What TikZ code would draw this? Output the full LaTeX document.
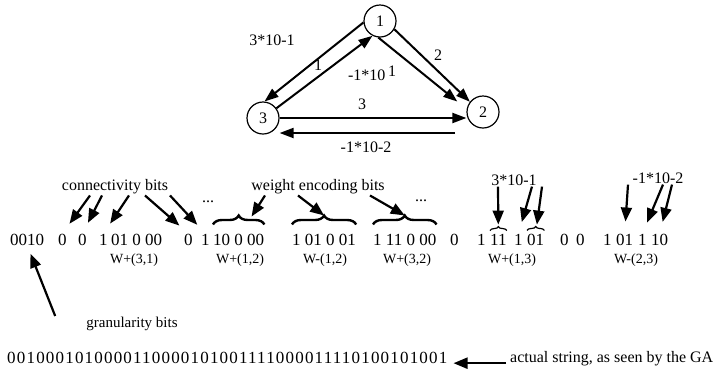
\documentclass[tikz,border=0pt]{standalone}
\usepackage{fontspec}
\setmainfont{Liberation Serif}
\newfontfamily\spacedfont[LetterSpace=7]{Liberation Serif}
\usetikzlibrary{arrows.meta,positioning,calc,decorations.pathreplacing}
\tikzset{
  stnode/.style={circle, draw, line width=1.2pt, minimum size=32pt, inner sep=0pt, font=\fontsize{16}{19}\selectfont},
  lbl/.style={inner sep=1pt, font=\fontsize{16}{19}\selectfont},
  edgeln/.style={-{Triangle[length=14pt,width=10pt]}, line width=2pt},
  ptrln/.style={-{Triangle[length=14pt,width=11pt]}, line width=2.2pt},
  bits/.style={anchor=base west, inner sep=0pt, font=\fontsize{17}{20}\selectfont},
  wname/.style={anchor=base, inner sep=0pt, font=\fontsize{14}{17}\selectfont},
  bigbrace/.style={decorate, decoration={brace, amplitude=9pt}, line width=2.4pt},
  tinybrace/.style={decorate, decoration={brace, amplitude=4pt}, line width=1.2pt},
}

\begin{document}
\begin{tikzpicture}[x=1pt, y=-1pt]
  \useasboundingbox (0,0) rectangle (728,376);
  % network
  \node[stnode] (n1) at (380,21) {1};
  \node[stnode] (n2) at (483,112) {2};
  \node[stnode] (n3) at (263,118) {3};
  \draw[edgeln] (n1.185) -- (n3.85);
  \draw[edgeln] (n3.36) -- (n1.243);
  \draw[edgeln] (n1.-30) -- (n2.142);
  \draw[edgeln, shorten >=12pt] (n1.264) -- (n2.170);
  \draw[edgeln] (n3.east) -- (n3.east -| n2.west);
  \coordinate (lo) at (455,133);
  \draw[edgeln] (lo) -- (lo -| n3.east);
  \node[lbl] (e31) at (272,40) {3*10-1};
  \node[lbl] (e13) at (318,65) {1};
  \node[lbl] (e12b) at (372,73) {-1*10\,\raisebox{4pt}{1}};
  \node[lbl] (e12) at (438,55) {2};
  \node[lbl] (e32) at (362,104) {3};
  \node[lbl] (e23) at (366,147) {-1*10-2};

  % encoded string
  \node[bits] (g0) at (10,245) {0010};
  \node[bits] (c1) at (58,245) {0};
  \node[bits] (c2) at (78,245) {0};
  \node[bits] (a1) at (99,245) {1};
  \node[bits] (a2) at (111,245) {01 0 00};
  \node[bits] (c3) at (184,245) {0};
  \node[bits] (b1) at (201,245) {1};
  \node[bits] (b2) at (213,245) {10 0 00};
  \node[bits] (d1) at (292,245) {1 01 0 01};
  \node[bits] (f1) at (373,245) {1 11 0 00};
  \node[bits] (c4) at (450,245) {0};
  \node[bits] (h1) at (477,245) {1};
  \node[bits] (h2) at (490,245) {11};
  \node[bits] (h3) at (514,245) {1};
  \node[bits] (h4) at (527,245) {01};
  \node[bits] (c5) at (560,245) {0};
  \node[bits] (c6) at (576,245) {0};
  \node[bits] (k1) at (603,245) {1};
  \node[bits] (k2) at (616,245) {01};
  \node[bits] (k3) at (638,245) {1};
  \node[bits] (k4) at (651,245) {10};

  \node[wname] (w31) at (134,263) {W+(3,1)};
  \node[wname] (w12) at (240,263) {W+(1,2)};
  \node[wname] (wm12) at (325,263) {W-(1,2)};
  \node[wname] (w32) at (407,263) {W+(3,2)};
  \node[wname] (w13) at (512,263) {W+(1,3)};
  \node[wname] (wm23) at (636,263) {W-(2,3)};

  % braces
  \draw[bigbrace] ([yshift=9pt]b2.north west) -- ([yshift=9pt]b2.north east)
    coordinate[pos=0.75] (br1);
  \draw[bigbrace] ([yshift=9pt]d1.north west) -- ([yshift=9pt]d1.north east)
    coordinate[midway] (br2);
  \draw[bigbrace] ([yshift=9pt]f1.north west) -- ([yshift=9pt]f1.north east)
    coordinate[midway] (br3);
  \draw[tinybrace] ([yshift=3pt]h2.north west) -- ([yshift=3pt]h2.north east);
  \draw[tinybrace] ([yshift=3pt]h4.north west) -- ([yshift=3pt]h4.north east);

  % labels and pointers
  \node[lbl] (conn) at (115,187) {connectivity bits};
  \node[lbl] (wenc) at (318,187) {weight encoding bits};
  \node[lbl] (dots1) at (208,202) {...};
  \node[lbl] (dots2) at (421,201) {...};
  \node[lbl] (t13) at (514,180) {3*10-1};
  \node[lbl] (t23) at (658,178) {-1*10-2};

  \draw[ptrln, shorten >=12pt] ([xshift=-25pt]conn.south) -- (c1.north);
  \draw[ptrln, shorten >=12pt] ([xshift=-13pt]conn.south) -- (c2.north);
  \draw[ptrln, shorten >=12pt] ([xshift=14pt]conn.south) -- (a1.north);
  \draw[ptrln, shorten >=12pt] ([xshift=30pt]conn.south) -- (c3.north);
  \draw[ptrln, shorten >=12pt] ([xshift=55pt]conn.south) -- (b1.north);

  \draw[ptrln] ([xshift=-53pt]wenc.south) -- ([yshift=8pt]br1);
  \draw[ptrln] ([xshift=-20pt]wenc.south) -- ([yshift=9pt]br2);
  \draw[ptrln] ([xshift=52pt]wenc.south) -- ([yshift=9pt]br3);

  \draw[ptrln, shorten >=9pt] ([xshift=-16pt]t13.south) -- (h2.north);
  \draw[ptrln, shorten >=12pt] ([xshift=18pt]t13.south) -- (h3.north);
  \draw[ptrln, shorten >=9pt] ([xshift=28pt]t13.south) -- (h4.north);
  \draw[ptrln, shorten >=12pt] ([xshift=-30pt]t23.south) -- (k2.north);
  \draw[ptrln, shorten >=12pt] ([xshift=5pt]t23.south) -- (k3.north);
  \draw[ptrln, shorten >=12pt] ([xshift=14pt]t23.south) -- (k4.north);

  % granularity and full string
  \node[lbl, font=\fontsize{15}{18}\selectfont] (gran) at (132,324) {granularity bits};
  \draw[ptrln, shorten >=9pt] ([xshift=-30pt]gran.north west) -- (g0.south);
  \node[bits, font=\fontsize{17}{20}\spacedfont] (gastr) at (7,363) {0010001010000110000101001111000011110100101001};
  \node[bits, font=\fontsize{16}{19}\selectfont] (gatxt) at (510,362) {actual string, as seen by the GA};
  \draw[ptrln, shorten <=4pt, shorten >=6pt] (gatxt.west) ++(0,-5pt) coordinate (gaend) -- (gaend -| gastr.east);
\end{tikzpicture}
\end{document}
